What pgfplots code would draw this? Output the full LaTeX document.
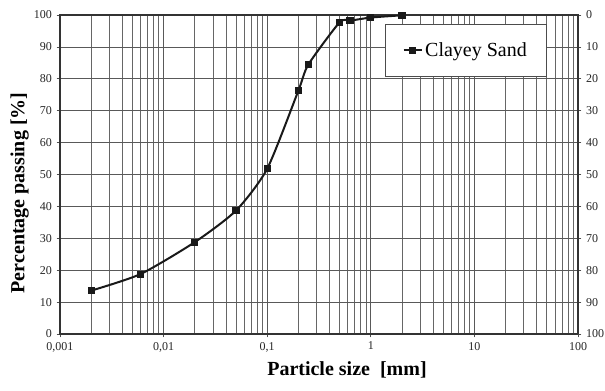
\documentclass[border=0pt]{standalone}
\usepackage{fontspec}
\setmainfont{Liberation Serif}
\usepackage{pgfplots}
\pgfplotsset{compat=1.18}
\begin{document}
\begin{tikzpicture}
\useasboundingbox (0pt,0pt) rectangle (453.75pt,292.5pt);
\begin{axis}[
  at={(45pt,42pt)}, anchor=south west,
  scale only axis, width=388.5pt, height=239.25pt,
  xmode=log, log basis x=10,
  xmin=0.001, xmax=100, ymin=0, ymax=100,
  xtick={0.001,0.01,0.1,1,10,100},
  xticklabels={{0,001},{0,01},{0,1},1,10,100},
  minor xtick={0.002,0.003,0.004,0.005,0.006,0.007,0.008,0.009,
    0.02,0.03,0.04,0.05,0.06,0.07,0.08,0.09,
    0.2,0.3,0.4,0.5,0.6,0.7,0.8,0.9,
    2,3,4,5,6,7,8,9,20,30,40,50,60,70,80,90},
  ytick={0,10,...,100},
  /pgf/number format/assume math mode=true,
  ticklabel style={font=\fontsize{9}{10}\selectfont, text=black!85},
  xtick pos=left, ytick pos=left,
  tick align=outside, major tick length=2.5pt, minor tick length=0pt,
  tick style={black!70, line width=0.6pt},
  xmajorgrids, xminorgrids, ymajorgrids,
  major grid style={black!65, line width=0.6pt},
  minor grid style={black!60, line width=0.6pt},
  axis line style={black!80, line width=0.8pt},
  xlabel={Particle size\ \ [mm]},
  ylabel={Percentage passing [\%]},
  label style={font=\fontsize{15}{18}\selectfont\bfseries},
  xlabel style={at={(axis description cs:0.554,-0.113)}, anchor=center},
  ylabel style={at={(axis description cs:-0.078,0.442)}, anchor=center, rotate=0},
  legend style={at={(axis description cs:0.627,0.972)}, anchor=north west,
    draw=black!70, line width=0.6pt, inner xsep=13pt, inner ysep=11.6pt,
    font=\fontsize{15}{18}\selectfont, fill=white},
  legend image code/.code={\draw[mark repeat=2,mark phase=2,#1] plot coordinates {(0pt,0pt) (6.75pt,0pt) (13.5pt,0pt)};},
]
\addplot[black!90, line width=1.5pt, smooth, tension=0.4, mark=square*, mark size=1.9pt, mark options={solid}]
coordinates {
(0.002,13.6) (0.006,18.8) (0.02,28.8) (0.05,38.7) (0.1,51.8) (0.2,76.3)
(0.25,84.5) (0.5,97.7) (0.63,98.2) (1,99.2) (2,99.9)
};
\addlegendentry{Clayey Sand}
\end{axis}
\begin{axis}[
  at={(45pt,42pt)}, anchor=south west,
  scale only axis, width=388.5pt, height=239.25pt,
  xmode=log, xmin=0.001, xmax=100, ymin=0, ymax=100,
  y dir=reverse,
  axis x line=none, axis y line*=right,
  ytick={0,10,...,100},
  /pgf/number format/assume math mode=true,
  ticklabel style={font=\fontsize{9}{10}\selectfont, text=black!85},
  tick align=outside, major tick length=2.5pt,
  tick style={black!70, line width=0.6pt},
  axis line style={black!80, line width=0.8pt},
]
\end{axis}
\end{tikzpicture}
\end{document}
